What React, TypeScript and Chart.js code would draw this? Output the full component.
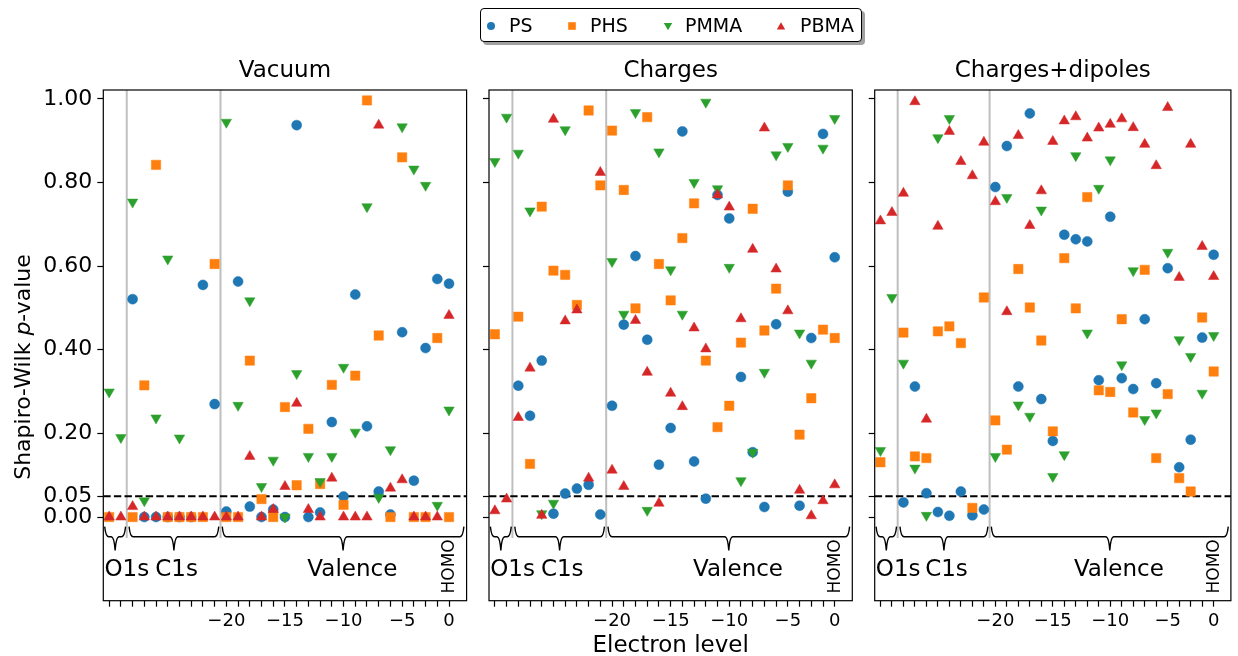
import { useEffect, useRef } from 'react';
import { Chart, registerables } from 'chart.js';

Chart.register(...registerables);

const FONT = '"DejaVu Sans", "Liberation Sans", sans-serif';
const W = 1238;
const H = 656;

// Electron level positions (O1s: 0-1, C1s: 2-9, valence: 10-29, HOMO = 29)
const levels = [0, 1, 2, 3, 4, 5, 6, 7, 8, 9, 10, 11, 12, 13, 14, 15, 16, 17, 18, 19, 20, 21, 22, 23, 24, 25, 26, 27, 28, 29];
const xLabelPositions = [10, 15, 20, 25, 29];
const xLabelTexts = ['\u221220', '\u221215', '\u221210', '\u22125', '0'];
const yTicks = [0, 0.05, 0.2, 0.4, 0.6, 0.8, 1.0];

const seriesNames = ['PS', 'PHS', 'PMMA', 'PBMA'];
const seriesColors = ['#1f77b4', '#ff7f0e', '#2ca02c', '#d62728'];

// Vacuum
const vacuumPS = [null, null, 0.521, 0, 0, 0, 0, 0, 0.555, 0.270, 0.013, 0.563, 0.025, 0, 0.018, 0, 0.937, 0, 0.011, 0.227, 0.049, 0.532, 0.217, 0.061, 0.006, 0.442, 0.087, 0.404, 0.569, 0.558];
const vacuumPHS = [0, null, 0, 0.315, 0.842, 0, 0, 0, 0, 0.605, 0, 0, 0.374, 0.043, 0, 0.263, 0.076, 0.211, 0.079, 0.316, 0.029, 0.338, 0.996, 0.434, 0, 0.860, 0, 0, 0.428, 0];
const vacuumPMMA = [0.299, 0.190, 0.753, 0.039, 0.237, 0.617, 0.189, null, null, null, 0.944, 0.267, 0.517, 0.073, 0.136, 0, 0.343, 0.145, 0.085, 0.145, 0.358, 0.203, 0.742, 0.047, 0.161, 0.933, 0.832, 0.793, 0.028, 0.256];
const vacuumPBMA = [0, 0, 0.025, 0, 0, 0, 0, 0, 0, 0, 0, 0, 0.145, 0, 0.018, 0.073, 0.272, 0.018, 0, 0.093, 0, 0, 0, 0.937, 0.069, 0.089, 0, 0, 0, 0.482];

// Charges
const chargesPS = [null, null, 0.314, 0.242, 0.374, 0.008, 0.056, 0.068, 0.077, 0.006, 0.266, 0.460, 0.624, 0.424, 0.125, 0.213, 0.922, 0.133, 0.044, 0.770, 0.714, 0.335, 0.155, 0.024, 0.461, 0.778, 0.027, 0.428, 0.916, 0.621];
const chargesPHS = [0.437, null, 0.479, 0.127, 0.742, 0.589, 0.579, 0.507, 0.972, 0.793, 0.924, 0.782, 0.499, 0.956, 0.605, 0.518, 0.667, 0.750, 0.374, 0.215, 0.266, 0.417, 0.737, 0.446, 0.546, 0.793, 0.197, 0.284, 0.448, 0.428];
const chargesPMMA = [0.850, 0.956, 0.870, 0.732, 0.008, 0.033, 0.926, null, null, null, 0.611, 0.485, 0.967, 0.016, 0.873, 0.591, 0.485, 0.800, 0.992, 0.785, 0.597, 0.087, 0.155, 0.346, 0.866, 0.886, 0.440, 0.368, 0.882, 0.953];
const chargesPBMA = [0.015, 0.043, 0.238, 0.356, 0.004, 0.951, 0.469, 0.495, 0.093, 0.824, 0.112, 0.073, 0.470, 0.346, 0.033, 0.296, 0.264, 0.452, 0.402, 0.770, 0.741, 0.474, 0.640, 0.930, 0.593, 0.493, 0.064, 0.003, 0.039, 0.077];

// Charges+dipoles
const dipolesPS = [null, null, 0.035, 0.312, 0.057, 0.012, 0.003, 0.061, 0.004, 0.018, 0.789, 0.887, 0.312, 0.965, 0.282, 0.182, 0.675, 0.664, 0.659, 0.327, 0.718, 0.332, 0.306, 0.473, 0.320, 0.595, 0.119, 0.185, 0.429, 0.627];
const dipolesPHS = [0.131, null, 0.441, 0.145, 0.141, 0.444, 0.456, 0.416, 0.022, 0.525, 0.231, 0.161, 0.593, 0.501, 0.422, 0.205, 0.619, 0.499, 0.765, 0.303, 0.299, 0.473, 0.250, 0.591, 0.141, 0.294, 0.093, 0.061, 0.477, 0.348];
const dipolesPMMA = [0.159, 0.525, 0.368, 0.117, 0.004, 0.907, 0.953, null, null, null, 0.145, 0.764, 0.268, 0.241, 0.734, 0.097, 0.149, 0.864, 0.440, 0.786, 0.854, 0.364, 0.589, 0.233, 0.249, 0.633, 0.424, 0.384, 0.296, 0.434];
const dipolesPBMA = [0.708, 0.728, 0.774, 0.993, 0.234, 0.695, 0.922, 0.850, 0.816, 0.896, 0.754, 0.491, 0.912, 0.697, 0.780, 0.898, 0.947, 0.957, 0.906, 0.930, 0.939, 0.952, 0.931, 0.891, 0.840, 0.979, 0.573, 0.891, 0.647, 0.575];

const panels = [
  { title: 'Vacuum', series: [vacuumPS, vacuumPHS, vacuumPMMA, vacuumPBMA], left: 103.3, right: 466.6 },
  { title: 'Charges', series: [chargesPS, chargesPHS, chargesPMMA, chargesPBMA], left: 489, right: 852.3 },
  { title: 'Charges+dipoles', series: [dipolesPS, dipolesPHS, dipolesPMMA, dipolesPBMA], left: 874.7, right: 1237.6 },
];
const PLOT_TOP = 90;
const PLOT_BOTTOM = 600.7;
const Y_MIN = -0.2;
const Y_MAX = 1.021;
const THRESHOLD = 0.05;
const SECTION_BREAKS = [1.5, 9.5];
const BIG = 23;

// Brace groups below the zero line: [from, to]
const braces = [
  [-0.38, 1.4],
  [1.7, 9.35],
  [9.65, 30.27],
];

const pointStyles = ['circle', 'rect', 'triangle', 'triangle'];
const pointRotations = [0, 0, 180, 0];
const pointRadii = [5, 6.6, 6, 6];

function drawBrace(ctx: CanvasRenderingContext2D, x0: number, x1: number, yTop: number, yMid: number, yTip: number) {
  const xc = (x0 + x1) / 2;
  const r = 4;
  ctx.beginPath();
  ctx.moveTo(x0, yTop);
  ctx.quadraticCurveTo(x0 + 1, yMid, x0 + r, yMid);
  ctx.lineTo(xc - r, yMid);
  ctx.quadraticCurveTo(xc - 1, yMid, xc, yTip);
  ctx.quadraticCurveTo(xc + 1, yMid, xc + r, yMid);
  ctx.lineTo(x1 - r, yMid);
  ctx.quadraticCurveTo(x1 - 1, yMid, x1, yTop);
  ctx.stroke();
}

function makeDecorPlugin(panelIndex: number) {
  return {
    id: 'decor' + panelIndex,
    beforeDatasetsDraw(chart: any) {
      const { ctx, chartArea, scales } = chart;
      const xs = scales.x;
      const ys = scales.y;
      ctx.save();
      // section separators
      ctx.strokeStyle = '#bfbfbf';
      ctx.lineWidth = 2;
      for (const b of SECTION_BREAKS) {
        const px = xs.getPixelForValue(b);
        ctx.beginPath();
        ctx.moveTo(px, chartArea.top);
        ctx.lineTo(px, ys.getPixelForValue(-0.05));
        ctx.stroke();
      }
      // significance threshold
      ctx.strokeStyle = '#000';
      ctx.lineWidth = 2;
      ctx.setLineDash([7.4, 3.2]);
      const py = ys.getPixelForValue(THRESHOLD);
      ctx.beginPath();
      ctx.moveTo(chartArea.left, py);
      ctx.lineTo(chartArea.right, py);
      ctx.stroke();
      ctx.restore();
    },
    afterDraw(chart: any) {
      const { ctx, chartArea, scales } = chart;
      const xs = scales.x;
      const ys = scales.y;
      ctx.save();
      // frame
      ctx.strokeStyle = '#000';
      ctx.lineWidth = 1.2;
      ctx.strokeRect(chartArea.left, chartArea.top, chartArea.right - chartArea.left, chartArea.bottom - chartArea.top);

      // braces
      ctx.lineWidth = 1.4;
      const yTop = ys.getPixelForValue(-0.023);
      const yMid = ys.getPixelForValue(-0.047);
      const yTip = ys.getPixelForValue(-0.08);
      for (const [a, b] of braces) {
        drawBrace(ctx, xs.getPixelForValue(a), xs.getPixelForValue(b), yTop, yMid, yTip);
      }

      // section names
      ctx.fillStyle = '#000';
      ctx.font = `${BIG}px ${FONT}`;
      ctx.textBaseline = 'alphabetic';
      const yText = ys.getPixelForValue(-0.142);
      ctx.textAlign = 'left';
      ctx.fillText('O1s', xs.getPixelForValue(-0.4), yText);
      ctx.textAlign = 'center';
      ctx.fillText('C1s', xs.getPixelForValue(5.75), yText);
      ctx.fillText('Valence', xs.getPixelForValue(20.75), yText);

      // HOMO marker label
      ctx.save();
      ctx.translate(xs.getPixelForValue(29.05), ys.getPixelForValue(-0.118));
      ctx.rotate(-Math.PI / 2);
      ctx.font = `17px ${FONT}`;
      ctx.textAlign = 'center';
      ctx.textBaseline = 'middle';
      ctx.fillText('HOMO', 0, 0);
      ctx.restore();

      // panel title
      ctx.font = `${BIG}px ${FONT}`;
      ctx.textAlign = 'center';
      ctx.textBaseline = 'alphabetic';
      ctx.fillText(panels[panelIndex].title, (chartArea.left + chartArea.right) / 2, 77);

      if (panelIndex === 0) {
        // y-axis title with italic p
        ctx.save();
        ctx.translate(30, 367);
        ctx.rotate(-Math.PI / 2);
        const normal = `22px ${FONT}`;
        const italic = `oblique 22px ${FONT}`;
        const parts: [string, string][] = [['Shapiro-Wilk ', normal], ['p', italic], ['-value', normal]];
        let total = 0;
        for (const [t, f] of parts) { ctx.font = f; total += ctx.measureText(t).width; }
        let x = -total / 2;
        ctx.textAlign = 'left';
        for (const [t, f] of parts) { ctx.font = f; ctx.fillText(t, x, 0); x += ctx.measureText(t).width; }
        ctx.restore();
      }
      if (panelIndex === 1) {
        ctx.font = `${BIG}px ${FONT}`;
        ctx.textAlign = 'center';
        ctx.fillText('Electron level', (chartArea.left + chartArea.right) / 2, 652);
      }
      ctx.restore();
    },
  };
}

function Panel({ index }: { index: number }) {
  const ref = useRef<HTMLCanvasElement | null>(null);
  useEffect(() => {
    const canvas = ref.current;
    if (!canvas) return;
    const p = panels[index];
    const datasets = p.series.map((vals, si) => ({
      label: seriesNames[si],
      data: levels
        .map((lv, i) => ({ x: lv, y: vals[i] }))
        .filter((d) => d.y !== null && d.y !== undefined),
      pointStyle: pointStyles[si],
      rotation: pointRotations[si],
      pointRadius: pointRadii[si],
      pointHoverRadius: pointRadii[si],
      backgroundColor: seriesColors[si],
      borderColor: seriesColors[si],
      borderWidth: 0.5,
      showLine: false,
      order: 4 - si,
    }));
    // scale boxes wide enough to hold their labels (labels are clipped to the box)
    const yAxisW = 100;
    const xAxisH = 40;
    const chart = new Chart(canvas, {
      type: 'scatter',
      data: { datasets: datasets as any },
      options: {
        animation: false,
        responsive: false,
        devicePixelRatio: 1,
        events: [],
        layout: {
          padding: {
            left: p.left - yAxisW,
            right: W - p.right,
            top: PLOT_TOP,
            bottom: H - PLOT_BOTTOM - xAxisH,
          },
        },
        plugins: { legend: { display: false }, tooltip: { enabled: false }, title: { display: false } },
        scales: {
          x: {
            type: 'linear',
            min: -0.5,
            max: 30.5,
            afterFit: (s: any) => { s.height = xAxisH; },
            afterBuildTicks: (s: any) => { s.ticks = levels.map((v) => ({ value: v })); },
            ticks: {
              autoSkip: false,
              maxRotation: 0,
              minRotation: 0,
              padding: 4,
              color: '#000',
              font: { family: FONT, size: 18 },
              callback: (v: any) => {
                const k = xLabelPositions.indexOf(Number(v));
                return k >= 0 ? xLabelTexts[k] : '';
              },
            },
            grid: { drawOnChartArea: false, drawTicks: true, tickLength: 6, tickColor: '#000', tickWidth: 1.2 },
            border: { display: false },
          },
          y: {
            type: 'linear',
            min: Y_MIN,
            max: Y_MAX,
            afterFit: (s: any) => { s.width = yAxisW; },
            afterBuildTicks: (s: any) => { s.ticks = yTicks.map((v) => ({ value: v })); },
            ticks: {
              autoSkip: false,
              padding: 5,
              color: '#000',
              font: { family: FONT, size: 22 },
              callback: (v: any) => (index === 0 ? Number(v).toFixed(2) : ''),
            },
            grid: { drawOnChartArea: false, drawTicks: true, tickLength: 6, tickColor: '#000', tickWidth: 1.2 },
            border: { display: false },
          },
        },
      },
      plugins: [makeDecorPlugin(index)],
    });
    return () => chart.destroy();
  }, [index]);
  return (
    <canvas
      ref={ref}
      width={W}
      height={H}
      style={{ position: 'absolute', left: 0, top: 0, width: W, height: H }}
    />
  );
}

function LegendMarker({ k }: { k: number }) {
  const c = seriesColors[k];
  let shape;
  if (k === 0) shape = <circle cx="5" cy="5" r="4" fill={c} />;
  else if (k === 1) shape = <rect x="1.2" y="1.2" width="7.6" height="7.6" fill={c} />;
  else if (k === 2) shape = <polygon points="0.8,2 9.2,2 5,9.3" fill={c} />;
  else shape = <polygon points="0.8,8.5 9.2,8.5 5,1.2" fill={c} />;
  return (
    <svg width="10" height="10" viewBox="0 0 10 10" style={{ position: 'absolute', left: -5, top: -5 }}>
      {shape}
    </svg>
  );
}

const legendMarkerX = [10, 91, 186.7, 300];
const legendTextX = [28, 109, 204, 319];

export default function App() {
  return (
    <div style={{ position: 'fixed', left: 0, top: 0, width: W, height: H, background: '#fff', overflow: 'hidden' }}>
      <Panel index={0} />
      <Panel index={1} />
      <Panel index={2} />
      <div
        style={{
          position: 'absolute',
          left: 480,
          top: 8,
          width: 380,
          height: 32,
          border: '1.3px solid #000',
          borderRadius: 4,
          background: '#fff',
          boxShadow: '3px 3px 0 #a0a0a0',
          fontFamily: FONT,
          fontSize: 19,
        }}
      >
        {seriesNames.map((n, k) => (
          <div key={n}>
            <div style={{ position: 'absolute', left: legendMarkerX[k], top: 16.5 }}>
              <LegendMarker k={k} />
            </div>
            <div style={{ position: 'absolute', left: legendTextX[k], top: 4, lineHeight: '24px', color: '#000' }}>{n}</div>
          </div>
        ))}
      </div>
    </div>
  );
}
